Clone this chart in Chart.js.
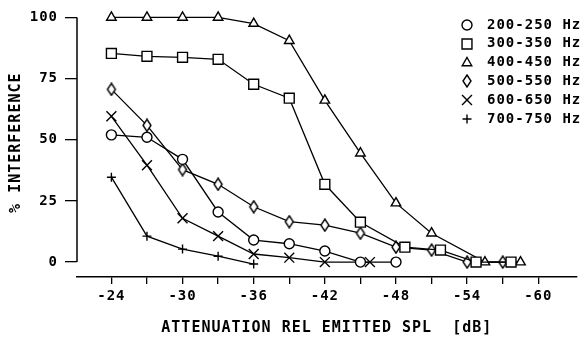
<!DOCTYPE html>
<html>
<head>
<meta charset="utf-8">
<script src="https://cdn.jsdelivr.net/npm/chart.js@4/dist/chart.umd.min.js"></script>
<style>
  body { margin: 0; background: #fff; }
</style>
</head>
<body>
<canvas id="chart" width="585" height="343"></canvas>
<script>
// frequency bands
var bandLabels = ['200-250 Hz', '300-350 Hz', '400-450 Hz', '500-550 Hz', '600-650 Hz', '700-750 Hz'];

// attenuation rel. emitted SPL (dB) / % interference, one pair per band
var x200 = [-24, -27, -30, -33, -36, -39, -42, -45, -48];
var y200 = [52, 51, 42, 20.5, 9, 7.5, 4.5, 0, 0];

var x300 = [-24, -27, -30, -33, -36, -39, -42, -45, -48.75, -51.75, -54.75, -57.7];
var y300 = [85.3, 84.1, 83.7, 82.9, 72.7, 67, 31.8, 16.3, 6.1, 4.9, 0, 0];

var x400 = [-24, -27, -30, -33, -36, -39, -42, -45, -48, -51, -55.5, -58.5];
var y400 = [100, 100, 100, 100, 97.5, 90.5, 66.1, 44.5, 24.1, 11.8, 0, 0];

var x500 = [-24, -27, -30, -33, -36, -39, -42, -45, -48, -51, -54, -57];
var y500 = [70.6, 55.9, 37.8, 31.8, 22.6, 16.5, 15.1, 11.8, 6.1, 4.9, 0, 0];

var x600 = [-24, -27, -30, -33, -36, -39, -42, -45.8];
var y600 = [59.6, 39.6, 17.9, 10.6, 3.3, 1.8, 0, 0];

var x700 = [-24, -27, -30, -33, -36];
var y700 = [34.7, 10.6, 5.3, 2.4, -0.8];

var xTicks = [-24, -27, -30, -33, -36, -39, -42, -45, -48, -51, -54, -57, -60];
var yTicks = [0, 25, 50, 75, 100];

function pairs(xs, ys) {
  return xs.map(function (x, i) { return { x: x, y: ys[i] }; });
}

// narrow hollow diamond marker
function diamondMarker() {
  var c = document.createElement('canvas');
  c.width = 12; c.height = 14;
  var g = c.getContext('2d');
  g.beginPath();
  g.moveTo(6, 1); g.lineTo(10, 7); g.lineTo(6, 13); g.lineTo(2, 7);
  g.closePath();
  g.fillStyle = '#fff'; g.fill();
  g.lineWidth = 1.4; g.strokeStyle = '#000'; g.stroke();
  return c;
}

function series(label, xs, ys, style, radius) {
  return {
    label: label,
    data: pairs(xs, ys),
    borderColor: '#000',
    borderWidth: 1.3,
    backgroundColor: '#fff',
    pointStyle: style,
    pointRadius: radius,
    pointBorderWidth: 1.4,
    pointBorderColor: '#000',
    pointBackgroundColor: '#fff',
    fill: false,
    lineTension: 0,
    clip: false
  };
}

var FONT = "'DejaVu Sans Mono', monospace";
Chart.defaults.font.family = FONT;
Chart.defaults.font.size = 14;
Chart.defaults.font.weight = 'bold';
Chart.defaults.color = '#000';

var spacingPlugin = {
  id: 'spacing',
  beforeDraw: function (chart) { chart.ctx.letterSpacing = '1px'; }
};

// y axis line only from 0 to 100, and the legend on the right
var extrasPlugin = {
  id: 'extras',
  afterDraw: function (chart) {
    var ctx = chart.ctx;
    var ys = chart.scales.y;
    ctx.save();
    ctx.strokeStyle = '#000';
    ctx.lineWidth = 1.5;
    ctx.beginPath();
    ctx.moveTo(chart.chartArea.left, ys.getPixelForValue(yTicks[yTicks.length - 1]));
    ctx.lineTo(chart.chartArea.left, ys.getPixelForValue(yTicks[0]));
    ctx.stroke();

    ctx.font = 'bold 14px ' + FONT;
    ctx.textBaseline = 'middle';
    ctx.textAlign = 'left';
    chart.data.datasets.forEach(function (ds, i) {
      var y = 25 + i * 18.8;
      if (Chart.helpers && Chart.helpers.drawPoint) {
        ctx.fillStyle = '#fff';
        ctx.strokeStyle = '#000';
        ctx.lineWidth = 1.4;
        Chart.helpers.drawPoint(ctx, { pointStyle: ds.pointStyle, radius: ds.pointRadius, borderWidth: 1.4, rotation: 0 }, 467, Math.round(y));
      }
      ctx.fillStyle = '#000';
      ctx.fillText(ds.label, 487, y);
    });
    ctx.restore();
  }
};

var ctx = document.getElementById('chart').getContext('2d');
var chart = new Chart(ctx, {
  type: 'line',
  data: {
    datasets: [
      series(bandLabels[0], x200, y200, 'circle', 5),
      series(bandLabels[1], x300, y300, 'rect', 7),
      series(bandLabels[2], x400, y400, 'triangle', 5.5),
      series(bandLabels[3], x500, y500, diamondMarker(), 5),
      series(bandLabels[4], x600, y600, 'crossRot', 7),
      series(bandLabels[5], x700, y700, 'cross', 4.5)
    ]
  },
  plugins: [spacingPlugin, extrasPlugin],
  options: {
    responsive: false,
    animation: false,
    layout: { padding: 0 },
    plugins: { legend: { display: false }, tooltip: { enabled: false } },
    scales: {
      x: {
        type: 'linear',
        reverse: true,
        min: -63.23,
        max: -21.1,
        afterBuildTicks: function (s) { s.ticks = xTicks.map(function (v) { return { value: v }; }); },
        afterFit: function (s) { s.height = 66; s.paddingLeft = 0; s.paddingRight = 0; },
        ticks: {
          padding: 4,
          maxRotation: 0,
          autoSkip: false,
          callback: function (v) { return v % 6 === 0 ? String(v) : ''; }
        },
        grid: { drawOnChartArea: false, drawTicks: true, tickLength: 7, color: '#000', lineWidth: 1.3 },
        border: { display: true, color: '#000', width: 1.5 },
        title: {
          display: true,
          text: 'ATTENUATION REL EMITTED SPL  [dB]',
          padding: { top: 0, bottom: 6 },
          font: { size: 15, weight: 'bold' }
        }
      },
      y: {
        type: 'linear',
        min: -6.1,
        max: 103.7,
        afterBuildTicks: function (s) { s.ticks = yTicks.map(function (v) { return { value: v }; }); },
        afterFit: function (s) { s.width = 77; s.paddingTop = 0; s.paddingBottom = 0; },
        ticks: { padding: 7 },
        grid: { drawOnChartArea: false, drawTicks: true, tickLength: 12, color: '#000', lineWidth: 1.3 },
        border: { display: false },
        title: {
          display: true,
          text: '% INTERFERENCE',
          padding: { top: 7.5, bottom: 0 },
          font: { size: 15, weight: 'bold' }
        }
      }
    }
  }
});
</script>
</body>
</html>
